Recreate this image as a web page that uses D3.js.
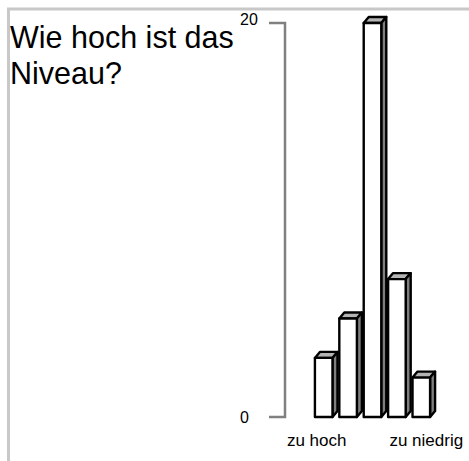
<!DOCTYPE html>
<html>
<head>
<meta charset="utf-8">
<script src="https://cdn.jsdelivr.net/npm/d3@7"></script>
<style>
  body { margin: 0; background: #fff; }
  svg { display: block; font-family: "Liberation Sans", Arial, Helvetica, sans-serif; }
</style>
</head>
<body>
<div id="chart"></div>
<script>
const categories = ["c1", "c2", "c3", "c4", "c5"];
const values = [3, 5, 20, 7, 2];
const categoryLabels = ["zu hoch", "", "", "", "zu niedrig"];
const yTicks = [0, 20];
const titleLines = ["Wie hoch ist das", "Niveau?"];

const width = 469, height = 461;
const depth = { dx: 5, dy: -6 };

const svg = d3.select("#chart")
  .append("svg")
  .attr("width", width)
  .attr("height", height);

// frame (top and left edge only)
svg.append("path")
  .attr("d", "M8.5,461 V9 H469")
  .attr("fill", "none")
  .attr("stroke", "#c8c8c8")
  .attr("stroke-width", 3);

// title
svg.append("text")
  .attr("x", 10)
  .attr("y", 48)
  .style("font-size", "30.5px")
  .attr("fill", "#000")
  .selectAll("tspan")
  .data(titleLines)
  .join("tspan")
  .attr("x", 10)
  .attr("dy", (d, i) => i === 0 ? 0 : 36)
  .text(d => d);

const x = d3.scaleBand()
  .domain(categories)
  .range([311.5, 433.5])
  .paddingInner(0.28)
  .paddingOuter(0.14);

const y = d3.scaleLinear()
  .domain([0, 20])
  .range([417, 23]);

// value axis
const axisX = 285;
svg.append("path")
  .attr("d", `M${axisX - 16},${y(20)} H${axisX} V${y(0)} H${axisX - 16}`)
  .attr("fill", "none")
  .attr("stroke", "#808080")
  .attr("stroke-width", 2.5);

svg.selectAll(".ytick")
  .data(yTicks)
  .join("text")
  .attr("class", "ytick")
  .attr("x", 240)
  .attr("y", d => y(d))
  .attr("dy", d => d === 20 ? "0.15em" : "0.35em")
  .style("font-size", "16px")
  .text(d => d);

// 3D bars
const bars = svg.selectAll(".bar")
  .data(values)
  .join("g")
  .attr("class", "bar");

const bw = x.bandwidth();

bars.append("path")
  .attr("d", (d, i) => {
    const x0 = x(categories[i]), yt = y(d);
    return `M${x0},${yt} L${x0 + depth.dx},${yt + depth.dy} L${x0 + bw + depth.dx},${yt + depth.dy} L${x0 + bw},${yt} Z`;
  })
  .attr("fill", "#b4b4b4")
  .attr("stroke", "#000")
  .attr("stroke-width", 2.4)
  .attr("stroke-linejoin", "round");

bars.append("path")
  .attr("d", (d, i) => {
    const x1 = x(categories[i]) + bw, yt = y(d), yb = y(0);
    return `M${x1},${yb} L${x1 + depth.dx},${yb + depth.dy} L${x1 + depth.dx},${yt + depth.dy} L${x1},${yt} Z`;
  })
  .attr("fill", "#7f7f7f")
  .attr("stroke", "#000")
  .attr("stroke-width", 2.4)
  .attr("stroke-linejoin", "round");

bars.append("rect")
  .attr("x", (d, i) => x(categories[i]))
  .attr("y", d => y(d))
  .attr("width", bw)
  .attr("height", d => y(0) - y(d))
  .attr("fill", "#fff")
  .attr("stroke", "#000")
  .attr("stroke-width", 2.4)
  .attr("stroke-linejoin", "round");

// category labels
const labelShift = [-7, 0, 0, 0, 5];
svg.selectAll(".xlabel")
  .data(categoryLabels)
  .join("text")
  .attr("class", "xlabel")
  .attr("x", (d, i) => x(categories[i]) + bw / 2 + labelShift[i])
  .attr("y", 446)
  .attr("text-anchor", "middle")
  .style("font-size", "17px")
  .text(d => d);
</script>
</body>
</html>
